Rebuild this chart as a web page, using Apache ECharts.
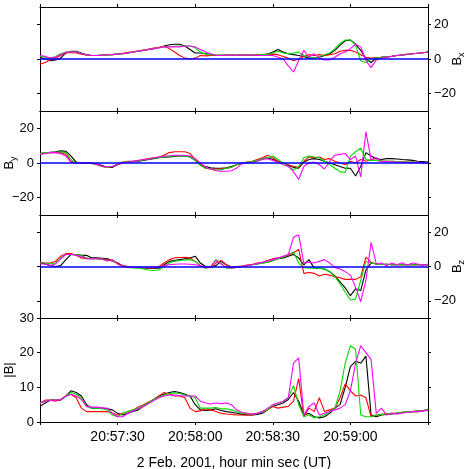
<!DOCTYPE html>
<html>
<head>
<meta charset="utf-8">
<script src="https://cdn.jsdelivr.net/npm/echarts@6/dist/echarts.min.js"></script>
<style>html,body{margin:0;padding:0;background:#fff}#c{width:467px;height:469px}</style>
</head>
<body>
<div id="c"></div>
<script>
// seconds after 20:57:00 UT, 2 Feb 2001
const times = [0,2,4,6,8,10,12,14,16,18,20,22,24,26,28,30,32,34,36,38,40,42,44,46,48,50,52,54,56,58,60,62,64,66,68,70,72,74,76,78,80,82,84,86,88,90,92,94,96,98,100,102,104,106,108,110,112,114,116,118,120,122,124,126,128,130,132,134,136,138,140,142,144,146,148,150];
const timeTickLabels = [30,60,90,120];

const bxBlack = [1,0,-1,-0.5,0.5,3.5,4.5,4.5,3.5,2.5, 2,2,2.2,2.5,2.5,2.8,3,3.5,4,4.5, 5,5.5,6,6.5,7.5,8.2,8.5,8.5,7.5,5.5, 3.5,3.5,3,2.5,2.2,2.2,2.3,2.3,2.2,2.3, 2.2,2.3,2.2,2.5,2.8,4,5.5,4,3,2.5, 2,1.5,0.5,0.5,1,2,3,5,8,10.5, 11,8.5,5,0,-2,0.5,1,1.2,1.5,2, 2.3,2.6,3,3.3,3.6,4];
const bxRed = [-3,-2,-0.5,0.5,2,3.5,3.8,3.5,2.8,2.2, 2,2,2.3,2.5,2.5,3,3.3,3.8,4.2,4.8, 5.2,5.8,6.3,6.8,7.2,6,4,2,0.5,0, 0.5,2,1.8,2,2.2,2.2,2.3,2.4,2.2,2.4, 2.3,2.2,2.5,2.3,2.5,2.8,2.5,1.5,0.5,-1, 0,1.5,2.5,2,2.5,2,2.5,3,4.5,5, 5,4,2.5,1,0.5,0.8,1,1.3,1.6,2, 2.4,2.8,3,3.3,3.6,4];
const bxGreen = [1.5,1,0.5,1.5,3,4,4.2,4,3.2,2.5, 2,2,2.3,2.4,2.5,2.8,3,3.5,4,4.5, 5,5.5,6,6.5,7,7.2,7.3,7.5,7.5,7.5, 6.5,4,2.8,2.5,2.3,2.2,2.3,2.4,2.2,2.3, 2.2,2.4,2.3,2.5,2.5,3.5,4.5,3.5,3,3.5, 4,2,1,0.5,1.5,2.5,3.5,6,9,11, 11,8,-1,-2,0,0.5,1,1.3,1.6,2, 2.3,2.7,3,3.3,3.6,4];
const bxMagenta = [2,1.5,0.5,1,2.5,3.8,4.2,4,3.2,2.5, 2,2.1,2.3,2.4,2.6,2.8,3,3.5,4,4.5, 5,5.5,6,6.5,7,7,7,7,7.5,7.5, 7,5.5,4,3,2.2,2,2.2,2.3,2.2,2.2, 2.3,2.2,2.1,2,2,2,1,0,-4,-7.5, -1,5,1,3,0.5,-0.5,-0.5,1,3,4, 6,8.5,7,-1,-5,-0.5,0.5,1,1.5,2, 2.3,2.6,3,3.3,3.6,4];

const byBlack = [5,5.8,6.2,6.5,7,6.8,4,0.5,0,0, 0,-0.5,-1.5,-2.5,-2.5,-1,0,0.5,0.8,1, 1.5,2,2.5,3,3.3,3.5,3.8,4,4,3.5, 1.5,-1,-2,-2.8,-3,-3,-2.8,-2,-1,0, 0,0.5,1.5,2.5,3,2,1,0,-1.5,-2.5, -3,0.5,2,2.5,2,1,0,-1,-2,-3, -3,-7.5,-2,6,4,2.5,2,2.5,2.5,2.3, 2,1.8,1.5,1,0.8,0.5];
const byRed = [5.5,6,6,6,6,5,1,0,0,0, -0.3,-1,-2,-2.5,-2,-0.5,0.5,1,1,1.3, 2,2.5,3,3.5,4.5,6,6.5,6.5,6.5,5.5, 2,-1,-3,-3.5,-3.5,-3.5,-3,-2.5,-1,0, 0.5,1,2,3,4.5,3,1,0,-1,-2, -2.5,1,3.5,3,3.5,2,2.5,1,0,-1, 1,0,2,1,2,1.5,1,1,1,0.8, 0.7,0.5,0.5,0.3,0.3,0.2];
const byGreen = [5.5,6,6,6.2,6.5,6,2,0,0,0, -0.3,-1,-2,-2.5,-2,-0.5,0.3,0.8,1,1.2, 1.8,2.2,2.7,3.2,3.5,3.8,4,4,4,3.5, 1.5,-1.5,-3,-3.5,-4,-4,-3,-2.5,-1,0, 0.3,0.8,1.5,2.5,3,4,2,0,-2,-4, -2,3,4,3.5,3,1,-1,-3,-5,-5.5, 4,6.5,8.5,2,1.5,1.5,1.3,1,1,0.8, 0.6,0.5,0.5,0.3,0.3,0.2];
const byMagenta = [5,5.5,6,6,5.5,4,0.5,-0.3,0,-0.2, 0,-0.8,-1.8,-2.3,-2,-0.8,0,0.5,1,1.5, 2,2.3,3,3.5,4,4.2,4.5,4.5,4.5,4, 2.5,0,-2.5,-3.5,-4.5,-4.8,-4.8,-4.5,-3,-0.5, 0.3,0,1,2,2.5,1.5,0.5,-1,-2,-5, -9.5,-2,0,0.5,-1,-3.5,1,4.5,5,5.5, 2,4,-8,18,2,3,1,0.8,0.6,0.5, 0.4,0.3,0,0.5,-0.2,0.3];

const bzBlack = [2,1.5,0.5,0,0.5,4,7,7,6.5,6.5, 5,5,4.8,4.5,3.5,2,0.3,-0.3,-0.5,-0.5, -0.8,-1,-1,-1,1,3,3.5,4,4.5,5, 6,2,0,-0.5,0.5,3,1,-0.5,-0.5,0, 0.5,1,1.5,2,2.5,3.5,4.5,5,6,7, 5,1,4,-1,-1,-1.5,-3,-5.5,-9,-12.5, -17,-13,-14,-2,2,1.5,1.2,1.3,1,1.2, 1,1.2,1,1,1,1];
const bzRed = [2.5,2,2,3,6,7.5,7.5,6.5,5,4.5, 4.5,4.5,4.3,4,3,2,0.5,0,-0.3,-0.5, -0.5,-0.8,-0.8,0,2,4,5,5.2,5.3,5, 3,0.5,-0.8,-0.5,2,3.5,1,-0.5,0,0.3, 0.8,1.2,2,2.5,3.5,4.5,5,5.5,6.5,8, 10,-4,-3.5,-4,-5.5,-4.5,-5,-6,-6.5,-7.5, -7.5,-7.5,-6,5.5,2.5,1.5,1.2,1.3,1,1.2, 1,1.2,1,1,1,1];
const bzGreen = [2,2,1.5,2,5,7,7,6.8,6.5,5, 4.5,4.5,4.3,3.5,3.5,1.5,0,-0.5,-0.8,-1, -1.5,-2,-2.3,-2,0,2,3,3.5,3.8,4, 3,0.5,-1,0,4,2,-1,-1,-0.5,0, 0.5,1,1.5,2,2.5,3.5,4.5,5.5,7,8.5, 2,-0.5,-1,-1,-1,-1.5,-3,-6,-10,-15, -19.5,-19,-8,3,2,1.5,1.2,1.3,1,1.2, 1,1.2,1,1,1,1];
const bzMagenta = [1.5,1.5,0.5,1.5,4.5,7,7,6.5,6,4.5, 4.5,4.5,4.2,3.2,4,1.5,0,-0.3,-0.5,-0.5, -0.5,-0.5,-0.5,-0.5,0.5,1,1.3,1.5,1.5,1.3, 1,0.5,-0.5,0,3.5,1.5,-0.5,-0.8,-0.5,0, 0.5,1,1.8,2.5,3.2,4,5,6,7,17, 18.5,2,2.5,2,3,4,2,-0.5,-1.5,-3, -5,-12,-20.5,-8,14,1.5,2,0.5,2,1, 2.2,0.8,2,1.5,0.5,1.5];

const btBlack = [4.5,5.5,6.3,6.5,6.3,7.5,9,8.5,7.5,5, 4,4,4,3.8,3.5,2.5,2,2.5,3,3.5, 4.5,5.5,6.5,7.5,8,8.5,8.8,8.5,8,7.5, 5,3.5,3.3,3.5,3.8,3.3,3,2.8,2.5,2.2, 2,2,2.2,2.5,3.5,4.5,5,5.5,6.5,8.5, 6,2,2.5,1.5,1.2,1.5,2.5,4,5,10, 16,17.5,17,19,2,1.5,2,2.2,2.3,2.5, 2.7,2.8,3,3,3.2,3.5];
const btRed = [5.5,6.3,6.3,6,6.5,7.5,8,7,4,3, 3,3,3,3,2.5,2,2.5,3,3.5,4.3, 5,5.8,6.5,7.5,8.5,8,7.5,7.5,7,4, 3,3.2,3.8,3.5,3,2.5,2.3,2.2,2,2, 2,2,2.5,3,3.5,4.5,4,4.3,4.5,6, 12.5,1.5,4,3,7,3,3.5,4,7,11, 9,7.5,7.8,7,1.5,2,2.2,2.4,2.5,2.6, 2.8,3,3,3.2,3.3,3.5];
const btGreen = [5.5,6,6.3,6.5,6.5,7.5,8.5,8,7,4.5, 4,4,3.8,3.5,2,1.5,2.5,3,3.5,4, 4.8,5.6,6.5,7.2,7.8,8.2,8.4,8.2,7.8,7.5, 7,4,4,4,4.2,3.8,3.8,3.5,3,2.5, 2.5,2.3,2.5,3,3.5,5,5.5,6,7,10.5, 5,1.5,2,1.2,1.5,2,3,4,9,17, 22,21,2,1.5,1.5,2,2.2,2.3,2.5,2.6, 2.8,3,3,3.2,3.3,3.5];
const btMagenta = [5.5,6,6.3,6.3,6.5,7.5,8,7.5,6.5,4.5, 4.3,4.3,4,4,2.5,1.5,1.5,2.5,3.2,3.8, 4.5,5.3,6.2,7,7.5,7.8,7.8,7.6,7.5,7.5, 7.5,6,5.5,5.2,5.5,5.3,5.5,5,3.5,2.8, 2.5,2.3,2.5,3,4,5,5.5,6,7,17, 18.5,2,4.5,5.5,2,2.5,3,3.5,4,5, 9,17,22,20,18,2.5,4,2,2.5,2.3, 2.6,2.8,3,3,3.2,3.3];

const panelNames = ['B{s|x}', 'B{s|y}', 'B{s|z}', '|B|'];
const labelSide = ['right', 'left', 'right', 'left'];
const yTicks = [[-20,0,20],[-20,0,20],[-20,0,20],[0,10,20,30]];

const chart = echarts.init(document.getElementById('c'), null, {renderer: 'canvas'});
const FONT = 'Liberation Sans, Arial, Helvetica, sans-serif';
const tops = [7, 111, 215, 318];
const heights = [104, 104, 103, 104];
const grids = tops.map((t, i) => ({left: 40, width: 388, top: t, height: heights[i], outerBoundsMode: 'none'}));

function fmtTime(v) {
  const s = 57 * 60 + v;
  const m = Math.floor(s / 60);
  const sec = s % 60;
  return '20:' + m + ':' + String(sec).padStart(2, '0');
}
const lineAx = {show: true, onZero: false, lineStyle: {color: '#000', width: 1}};
const xAxes = [];
const yAxes = [];
for (let i = 0; i < 4; i++) {
  ['bottom', 'top'].forEach(pos => {
    const labeled = (i === 3 && pos === 'bottom');
    xAxes.push({
      type: 'value', gridIndex: i, position: pos, min: 0, max: 150, interval: 30,
      axisLine: lineAx, splitLine: {show: false},
      axisTick: {show: true, inside: false, length: 3, lineStyle: {color: '#000'}},
      axisLabel: labeled ? {show: true, customValues: timeTickLabels, formatter: fmtTime,
        fontSize: 14, color: '#000', fontFamily: FONT, margin: 8} : {show: false},
      name: labeled ? '2 Feb. 2001, hour min sec (UT)' : '',
      nameLocation: 'middle', nameGap: 34,
      nameTextStyle: {fontSize: 14, color: '#000', fontFamily: FONT}
    });
  });
  const isB = i === 3;
  ['left', 'right'].forEach(pos => {
    const labeled = labelSide[i] === pos;
    yAxes.push({
      type: 'value', gridIndex: i, position: pos,
      min: isB ? 0 : -30, max: 30, interval: 10,
      axisLine: lineAx, splitLine: {show: false},
      axisTick: {show: true, inside: false, length: 3, customValues: yTicks[i], lineStyle: {color: '#000'}},
      axisLabel: labeled ? {show: true, customValues: yTicks[i], margin: 6,
        formatter: v => String(v).replace('-', '\u2212'),
        fontSize: 13, color: '#000', fontFamily: FONT} : {show: false},
      name: labeled ? panelNames[i] : '',
      nameLocation: 'middle', nameRotate: 90, nameGap: pos === 'left' ? 22 : 21,
      nameMoveOverlap: false,
      nameTextStyle: {fontSize: 13, color: '#000', fontFamily: FONT, lineHeight: 17,
        rich: {s: {fontSize: 9, lineHeight: 9, verticalAlign: 'bottom', fontFamily: FONT, color: '#000'}}}
    });
  });
}

const panelData = [
  [bxBlack, bxRed, bxGreen, bxMagenta],
  [byBlack, byRed, byGreen, byMagenta],
  [bzBlack, bzRed, bzGreen, bzMagenta],
  [btBlack, btRed, btGreen, btMagenta]
];
const colors = ['#000000', '#ff0000', '#00dd00', '#ff00ff'];
const series = [];
panelData.forEach((arrs, i) => {
  arrs.forEach((arr, k) => {
    const s = {
      type: 'line', xAxisIndex: 2 * i, yAxisIndex: 2 * i,
      data: times.map((t, j) => [t, arr[j]]),
      showSymbol: false, symbol: 'none', smooth: false,
      lineStyle: {color: colors[k], width: 1.1},
      itemStyle: {color: colors[k]},
      animation: false, silent: true
    };
    if (k === 3 && i < 3) {
      s.markLine = {silent: true, symbol: 'none', animation: false,
        label: {show: false},
        lineStyle: {color: '#0000ff', width: 1.6, type: 'solid'},
        emphasis: {disabled: true},
        data: [{yAxis: 0}]};
    }
    series.push(s);
  });
});

chart.setOption({
  animation: false,
  backgroundColor: '#fff',
  grid: grids,
  xAxis: xAxes,
  yAxis: yAxes,
  series: series
});
</script>
</body>
</html>
